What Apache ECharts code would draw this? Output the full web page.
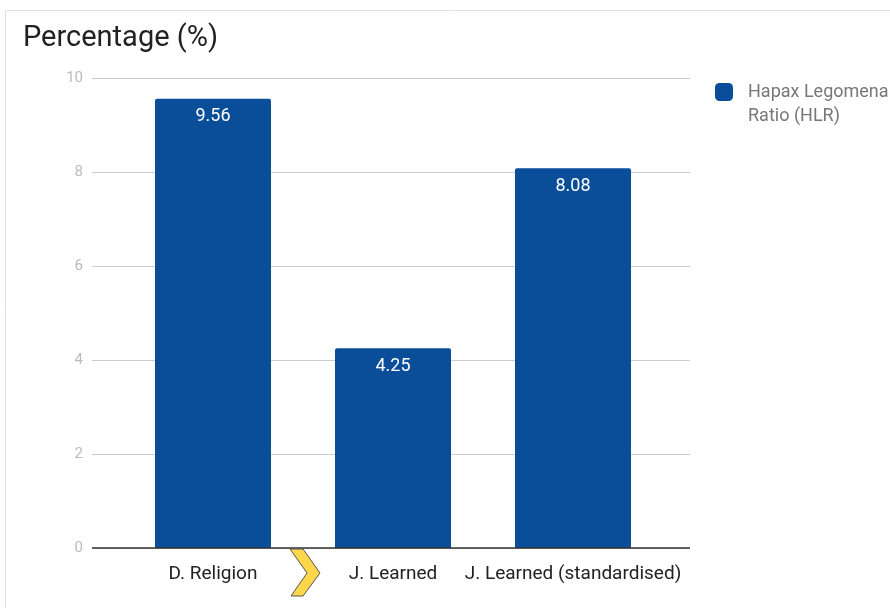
<!DOCTYPE html>
<html>
<head>
<meta charset="utf-8">
<script src="https://cdn.jsdelivr.net/npm/echarts@6/dist/echarts.min.js"></script>
<style>
  html, body { margin: 0; padding: 0; background: #fff; }
  #chart { width: 890px; height: 608px; }
</style>
</head>
<body>
<div id="chart"></div>
<script>
// Chart data
const categories = ['D. Religion', 'J. Learned', 'J. Learned (standardised)'];
const hlrValues = [9.56, 4.25, 8.08];
const seriesName = 'Hapax Legomena Ratio (HLR)';
const yTicks = { min: 0, max: 10, interval: 2 };

const chart = echarts.init(document.getElementById('chart'));
const FONT = 'Roboto, "Noto Sans", sans-serif';

chart.setOption({
  animation: false,
  title: {
    text: 'Percentage (%)',
    left: 18, top: 19,
    textStyle: { fontFamily: FONT, fontSize: 29, fontWeight: 'normal', color: '#222' }
  },
  legend: {
    data: [seriesName],
    orient: 'vertical',
    left: 715, top: 56, padding: 0,
    itemWidth: 18, itemHeight: 18,
    icon: 'roundRect',
    // leading blank line keeps the first text line level with the swatch
    formatter: () => '\u00a0\nHapax Legomena\nRatio (HLR)',
    textStyle: { fontFamily: FONT, fontSize: 18, color: '#777', lineHeight: 24, padding: [0, 0, 0, 10] }
  },
  grid: [
    // gridline frame
    { left: 92, top: 78, width: 598, bottom: 60 },
    // bar area
    { left: 123, top: 78, width: 540, bottom: 60 }
  ],
  xAxis: [
    { type: 'category', gridIndex: 0, data: [''], show: false },
    {
      type: 'category', gridIndex: 1, data: categories,
      axisLine: { show: false }, axisTick: { show: false },
      axisLabel: { interval: 0, fontFamily: FONT, fontSize: 19, color: '#222', margin: 17 }
    }
  ],
  yAxis: [
    {
      type: 'value', gridIndex: 0, min: yTicks.min, max: yTicks.max, interval: yTicks.interval,
      axisLine: { show: false }, axisTick: { show: false },
      axisLabel: { fontFamily: FONT, fontSize: 15, color: '#bbb', margin: 9 },
      splitLine: { lineStyle: { color: '#ccc', width: 1 } }
    },
    {
      type: 'value', gridIndex: 1, min: yTicks.min, max: yTicks.max, interval: yTicks.interval,
      show: false
    }
  ],
  series: [
    {
      name: seriesName,
      type: 'bar',
      xAxisIndex: 1, yAxisIndex: 1,
      data: hlrValues,
      barWidth: 116,
      itemStyle: { color: '#0a4e9a', borderRadius: [2, 2, 0, 0] },
      label: {
        show: true, position: 'insideTop', distance: 9,
        fontFamily: FONT, fontSize: 18, color: '#fff',
        formatter: p => p.value.toFixed(2)
      }
    },
    {
      // baseline at zero across the full frame
      type: 'line',
      xAxisIndex: 0, yAxisIndex: 0,
      data: [0],
      symbol: 'none',
      lineStyle: { opacity: 0 },
      markLine: {
        silent: true, symbol: 'none', label: { show: false },
        lineStyle: { color: '#333', type: 'solid', width: 1.5 },
        data: [{ yAxis: 0 }]
      },
      legendHoverLink: false
    }
  ],
  graphic: [
    {
      type: 'rect', z: -1,
      shape: { x: 5.5, y: 10.5, width: 900, height: 620 },
      style: { fill: 'none', stroke: '#e0e0e0', lineWidth: 1 }
    },
    {
      type: 'polygon', z: 20,
      shape: { points: [[290, 549], [303, 549], [320, 573], [303, 596], [291, 596], [307, 573]] },
      style: { fill: '#fdd64a', stroke: '#555', lineWidth: 1 }
    }
  ]
});
</script>
</body>
</html>
